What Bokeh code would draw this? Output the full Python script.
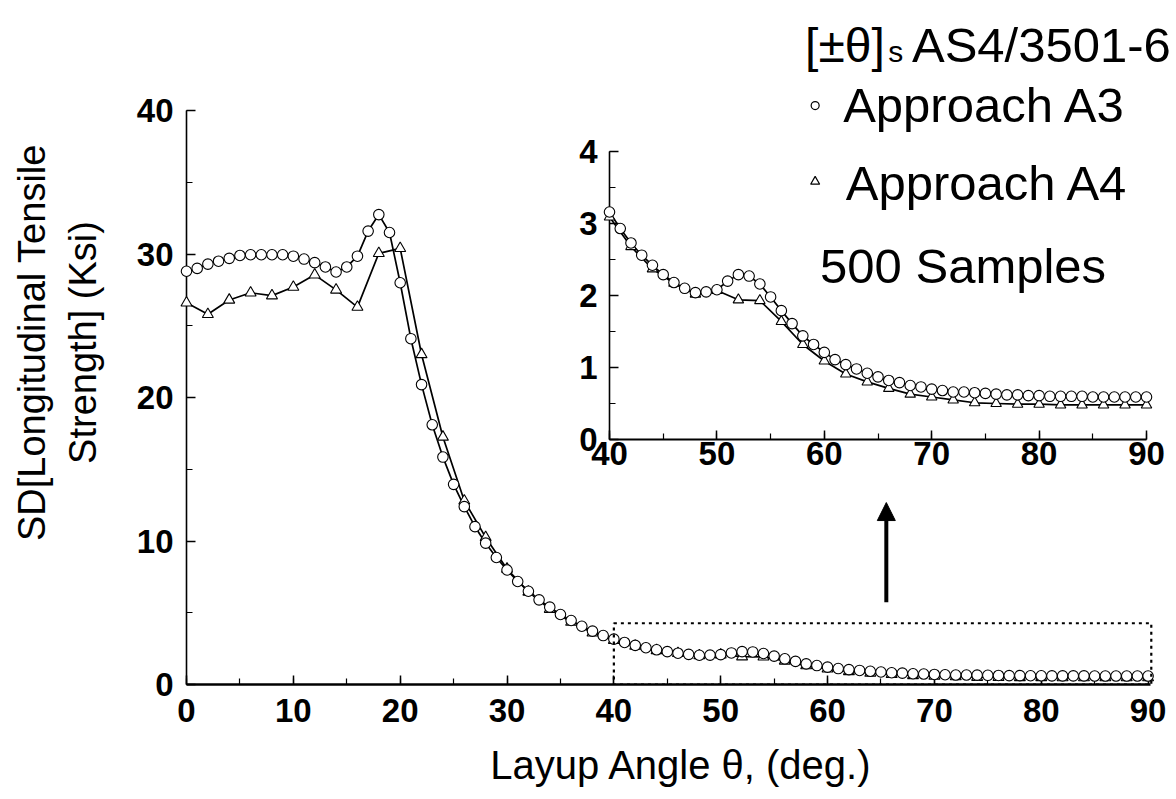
import numpy as np
from bokeh.plotting import figure
from bokeh.models import (Range1d, SingleIntervalTicker, Label, Arrow, NormalHead,
                          GridBox, BoxAnnotation)
from bokeh.embed import file_html
from bokeh.resources import INLINE

# ---------------- data ----------------
angle_a3 = list(range(0, 91))
sd_a3 = [28.8, 29.0, 29.3, 29.5, 29.7, 29.9, 29.95, 29.95, 29.95, 29.95,
         29.85, 29.65, 29.4, 29.1, 28.75, 29.1, 29.85, 31.6, 32.75, 31.5,
         28.0, 24.1, 20.9, 18.1, 15.85, 13.95, 12.4, 11.0, 9.85, 8.85,
         7.98, 7.18, 6.5, 5.9, 5.39, 4.88, 4.46, 4.06, 3.72, 3.41,
         3.16, 2.93, 2.73, 2.56, 2.42, 2.29, 2.18, 2.10, 2.04, 2.05,
         2.08, 2.20, 2.29, 2.27, 2.16, 1.98, 1.79, 1.61, 1.44, 1.32,
         1.21, 1.11, 1.04, 0.98, 0.92, 0.87, 0.82, 0.79, 0.75, 0.73,
         0.70, 0.68, 0.66, 0.66, 0.65, 0.64, 0.63, 0.62, 0.62, 0.61,
         0.61, 0.60, 0.60, 0.60, 0.60, 0.59, 0.59, 0.59, 0.59, 0.59, 0.59]
angle_a4 = list(range(0, 91, 2))
sd_a4 = [26.6, 25.8, 26.8, 27.3, 27.1, 27.7, 28.55, 27.5, 26.3, 30.05,
         30.4, 23.0, 17.25, 12.8, 10.25, 8.05, 6.45, 5.25, 4.35, 3.6,
         3.09, 2.68, 2.37, 2.17, 2.02, 2.07, 1.94, 1.93, 1.64, 1.32,
         1.09, 0.91, 0.80, 0.71, 0.63, 0.59, 0.55, 0.51, 0.50, 0.49,
         0.49, 0.48, 0.48, 0.48, 0.48, 0.48]

series_names = ["Approach A3", "Approach A4"]
title_main = "[\u00b1\u03b8]"
title_sub = "s"
title_rest = "AS4/3501-6"
note_text = "500 Samples"
x_label = "Layup Angle \u03b8, (deg.)"
y_label = "SD[Longitudinal Tensile\nStrength] (Ksi)"

FONT = "Liberation Sans"


def style_axes(fig, tick_size, x_line_w, y_line_w):
    fig.xgrid.visible = False
    fig.ygrid.visible = False
    fig.outline_line_color = None
    for ax, lw in ((fig.xaxis, x_line_w), (fig.yaxis, y_line_w)):
        ax.axis_line_width = lw
        ax.axis_line_color = "black"
        ax.major_tick_in = 9
        ax.major_tick_out = 0
        ax.minor_tick_in = 6
        ax.minor_tick_out = 0
        ax.major_tick_line_width = 1.5
        ax.minor_tick_line_width = 1.2
        ax.major_label_text_font = FONT
        ax.major_label_text_font_style = "bold"
        ax.major_label_text_font_size = tick_size
        ax.major_label_text_color = "black"


def add_series(fig, size_c, size_t):
    fig.line(angle_a4, sd_a4, line_color="black", line_width=1.7)
    r2 = fig.scatter(angle_a4, sd_a4, marker="triangle", size=size_t,
                     fill_color="white", line_color="black", line_width=1.1)
    fig.line(angle_a3, sd_a3, line_color="black", line_width=1.7)
    r1 = fig.scatter(angle_a3, sd_a3, marker="circle", size=size_c,
                     fill_color="white", line_color="black", line_width=1.1)
    r1.level = "overlay"
    r2.level = "overlay"


# shared border sizes (frames of overlaid figures are border-aligned)
B_LEFT, B_RIGHT, B_TOP, B_BOTTOM = 186, 0, 0, 115

# ---------------- main plot ----------------
p = figure(width=1176, height=799, x_range=Range1d(0, 92.66), y_range=Range1d(0, 47.67),
           output_backend="svg", toolbar_location=None,
           min_border_left=B_LEFT, min_border_right=B_RIGHT,
           min_border_top=B_TOP, min_border_bottom=B_BOTTOM)
p.background_fill_color = "white"
p.border_fill_color = "white"
style_axes(p, "33px", 2.6, 1.6)
p.xaxis.ticker = SingleIntervalTicker(interval=10, num_minor_ticks=2)
p.yaxis.ticker = SingleIntervalTicker(interval=10, num_minor_ticks=2)
p.xaxis.bounds = (0, 90.19)
p.yaxis.bounds = (0, 40)
p.xaxis.major_label_standoff = 14
p.yaxis.major_label_standoff = 13
p.xaxis.axis_label = x_label
p.yaxis.axis_label = y_label
for ax in (p.xaxis, p.yaxis):
    ax.axis_label_text_font = FONT
    ax.axis_label_text_font_style = "normal"
    ax.axis_label_text_color = "black"
p.xaxis.axis_label_text_font_size = "40px"
p.yaxis.axis_label_text_font_size = "38px"
p.xaxis.axis_label_standoff = 18
p.yaxis.axis_label_standoff = 30

add_series(p, 10.5, 11)

p.add_layout(BoxAnnotation(left=40, right=90.3, bottom=0, top=4.27,
                           fill_alpha=0, line_color="black", line_alpha=1.0,
                           line_dash="3 4", line_width=2.2, level="overlay"))
p.add_layout(Arrow(end=NormalHead(size=18, fill_color="black", line_color="black"),
                   x_start=65.5, y_start=5.73, x_end=65.5, y_end=12.68,
                   line_width=4, line_color="black"))

txt = dict(text_font=FONT, text_color="black", text_baseline="alphabetic", level="overlay")
p.add_layout(Label(x=57.9, y=44.54, text=title_main, text_font_size="48px", **txt))
p.add_layout(Label(x=65.67, y=44.1, text=title_sub, text_font_size="30px", **txt))
p.add_layout(Label(x=67.9, y=44.54, text=title_rest, text_font_size="49px", **txt))
p.add_layout(Label(x=61.46, y=40.39, text=series_names[0], text_font_size="49px", **txt))
p.add_layout(Label(x=61.7, y=34.93, text=series_names[1], text_font_size="49px", **txt))
p.add_layout(Label(x=59.3, y=29.14, text=note_text, text_font_size="49px", **txt))

lg1 = p.scatter([58.84], [40.35], marker="circle", size=8, fill_color="white",
                line_color="black", line_width=1.2)
lg2 = p.scatter([58.84], [35.05], marker="triangle", size=9, fill_color="white",
                line_color="black", line_width=1.2)
lg1.level = "overlay"
lg2.level = "overlay"

# ---------------- inset ----------------
q = figure(width=749, height=423, x_range=Range1d(40, 92.42), y_range=Range1d(0, 4.278),
           output_backend="svg", toolbar_location=None,
           min_border_left=B_LEFT, min_border_right=B_RIGHT,
           min_border_top=B_TOP, min_border_bottom=B_BOTTOM,
           margin=(131, 0, 0, 423))
q.background_fill_color = None
q.border_fill_color = None
style_axes(q, "33px", 2.0, 1.6)
q.xaxis.ticker = SingleIntervalTicker(interval=10, num_minor_ticks=2)
q.yaxis.ticker = SingleIntervalTicker(interval=1, num_minor_ticks=2)
q.xaxis.bounds = (40, 90)
q.yaxis.bounds = (0, 4)
q.xaxis.major_label_standoff = 2
q.yaxis.major_label_standoff = 12
add_series(q, 10.5, 10.5)

layout = GridBox(children=[(p, 0, 0), (q, 0, 0)])

open("out.html", "w").write(file_html(layout, INLINE))
